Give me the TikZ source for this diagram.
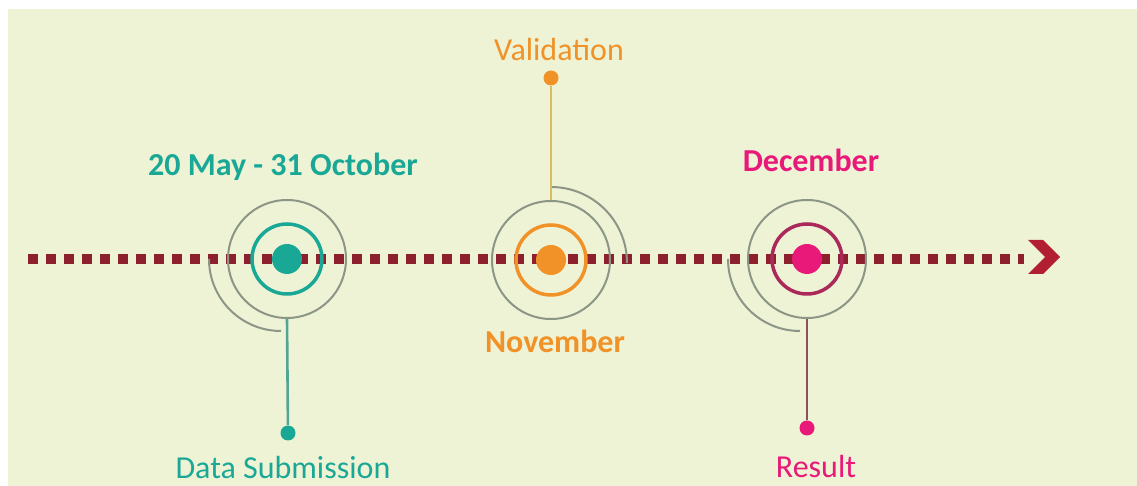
\documentclass[tikz,border=0pt]{standalone}
\usepackage{fontspec}
\setmainfont{Carlito}
\usetikzlibrary{arrows.meta}
\definecolor{bgpale}{RGB}{239,243,213}
\definecolor{dotred}{RGB}{140,32,45}
\definecolor{chevred}{RGB}{178,30,50}
\definecolor{tealc}{RGB}{26,168,150}
\definecolor{orangec}{RGB}{240,146,40}
\definecolor{pinkc}{RGB}{232,25,120}
\definecolor{plumc}{RGB}{170,40,90}
\definecolor{ringgray}{RGB}{140,150,135}
\definecolor{tealstem}{RGB}{80,165,150}
\definecolor{olivestem}{RGB}{215,190,95}
\definecolor{plumstem}{RGB}{140,80,95}

\begin{document}
\begin{tikzpicture}[x=0.5pt,y=-0.5pt,font=\fontsize{16}{18}\selectfont,
  hub/.style={circle,fill,inner sep=0pt,minimum size=15pt},
  ring/.style={circle,draw,line width=1.75pt,inner sep=0pt,minimum size=35pt},
  halo/.style={circle,draw=ringgray,line width=1pt,inner sep=0pt,minimum size=59pt},
  tip/.style={circle,fill,inner sep=0pt,minimum size=7.5pt},
  stem/.style={line width=1.3pt},
  swirl/.style={draw=ringgray,line width=1pt}]
\fill[white] (0,0) rectangle (1137,486);
\fill[bgpale] (8,9) rectangle (1137,486);
\useasboundingbox (0,0) rectangle (1137,486);
\coordinate (start) at (28,259);
\coordinate (end) at (1024,259);
\draw[dotred,line width=5pt,dash pattern=on 5pt off 4pt] (start) -- (end);
\fill[chevred] (1028,240) -- (1043,240) -- (1060,257) -- (1043,274) -- (1028,274) -- (1045,257) -- cycle;
\node[halo] (h1) at (287,259) {};
\node[halo] (h2) at (551,260) {};
\node[halo] (h3) at (807,259) {};
\node[ring,draw=tealc] (r1) at (287,259) {};
\node[ring,draw=orangec] (r2) at (551,260) {};
\node[ring,draw=plumc] (r3) at (807,259) {};
\node[hub,fill=tealc] (c1) at (287,259) {};
\node[hub,fill=orangec] (c2) at (551,260) {};
\node[hub,fill=pinkc] (c3) at (807,259) {};
\draw[swirl] (c1) ++(180:78) arc (180:90:72);
\draw[swirl] (c2) ++(270:73) arc (270:360:76);
\draw[swirl] (c3) ++(180:79) arc (180:90:72);
\node[tip,fill=tealc] (t1) at (288,433) {};
\node[tip,fill=orangec] (t2) at (551,78) {};
\node[tip,fill=pinkc] (t3) at (807,428) {};
\draw[stem,tealstem] (h1.south) -- (t1);
\draw[stem,olivestem] (h2.north) -- (t2);
\draw[stem,plumstem] (h3.south) -- (t3);
\node[text=tealc,font=\fontsize{16}{18}\selectfont\bfseries] (d1) at (283,167) {20 May - 31 October};
\node[text=tealc,inner sep=0pt] (l1) at (283,468) {Data Submission};
\node[text=orangec] (l2) at (559,50) {Validation};
\node[text=orangec,font=\fontsize{16}{18}\selectfont\bfseries] (d2) at (555,341) {November};
\node[text=pinkc,font=\fontsize{16}{18}\selectfont\bfseries] (d3) at (811,160) {December};
\node[text=pinkc,inner sep=0pt] (l3) at (816,467) {Result};
\end{tikzpicture}
\end{document}
